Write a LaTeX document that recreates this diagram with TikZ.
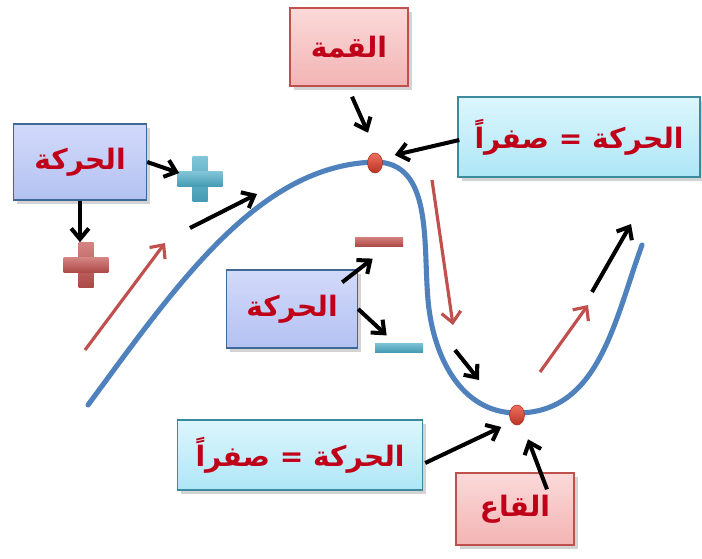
\documentclass[tikz,border=0pt]{standalone}
\usepackage{fontspec}
\newfontfamily\arabicfont[Script=Arabic]{DejaVu Sans}
\TeXXeTstate=1
\usetikzlibrary{arrows.meta,calc,shadows,shapes.geometric}
\definecolor{CurveBlue}{HTML}{4F81BD}
\definecolor{Salmon}{HTML}{C0504D}
\definecolor{PlusCyan}{HTML}{4BACC6}
\definecolor{TxtRed}{HTML}{C00018}
\definecolor{KnobRed}{HTML}{E8402C}
\definecolor{BoxBlueTop}{HTML}{D2DAFA}
\definecolor{BoxBlueBot}{HTML}{B4C2F2}
\definecolor{BoxCyanTop}{HTML}{DDF6FD}
\definecolor{BoxCyanBot}{HTML}{AEE6F6}
\definecolor{BoxPinkTop}{HTML}{FBD9D9}
\definecolor{BoxPinkBot}{HTML}{F3B4B4}
\newcommand{\artxt}[1]{{\arabicfont\bfseries\beginR #1\endR}}

\begin{document}
\begin{tikzpicture}[x=0.02cm, y=-0.02cm,
  markbox/.style={draw, line width=0.8pt, font=\fontsize{16}{20}\selectfont,
                  text=TxtRed, align=center, inner sep=2pt,
                  drop shadow={shadow xshift=2pt, shadow yshift=-2pt, opacity=0.35}},
  bluebox/.style={markbox, draw=CurveBlue!80!black, top color=BoxBlueTop, bottom color=BoxBlueBot},
  cyanbox/.style={markbox, draw=PlusCyan!80!black, top color=BoxCyanTop, bottom color=BoxCyanBot},
  pinkbox/.style={markbox, draw=Salmon, top color=BoxPinkTop, bottom color=BoxPinkBot},
  plussign/.style={minimum size=0.9cm, inner sep=0pt, path picture={
      \shade[top color=#1!70, bottom color=#1!90!black]
        ([xshift=-0.15cm]path picture bounding box.south) rectangle
        ([xshift=0.15cm]path picture bounding box.north);
      \shade[top color=#1!70, bottom color=#1!90!black]
        ([yshift=-0.15cm]path picture bounding box.west) rectangle
        ([yshift=0.15cm]path picture bounding box.east);}},
  minussign/.style={minimum width=0.96cm, minimum height=0.17cm, inner sep=0pt,
                    top color=#1!75, bottom color=#1!90!black},
  knob/.style={ellipse, minimum width=0.3cm, minimum height=0.4cm, inner sep=0pt,
              top color=KnobRed!75!white, bottom color=KnobRed!80!black,
              draw=KnobRed!70!black, line width=0.3pt},
  blk/.style={-{Straight Barb[length=6pt, width=10pt]}, line width=2.3pt, black},
  salm/.style={-{Straight Barb[length=6pt, width=11pt]}, line width=1.8pt, Salmon}
]
\useasboundingbox (0,0) rectangle (702,558);

% the curve
\draw[CurveBlue, line width=2.9pt, line cap=round]
  (88,405) .. controls (180,280) and (260,165) .. (375,162)
  to[out=0, in=95] (428,300)
  to[out=-85, in=180] (517,413)
  to[out=0, in=-110] (642,245);

\node[knob] (peak) at (375,163) {};
\node[knob] (trough) at (517,415) {};

% boxes
\node[bluebox, minimum width=2.66cm, minimum height=1.52cm] (motionA) at (80,162) {\artxt{الحركة}};
\node[pinkbox, minimum width=2.36cm, minimum height=1.56cm] (peakbox) at (349,47) {\artxt{القمة}};
\node[cyanbox, minimum width=4.84cm, minimum height=1.6cm] (zeroA) at (579,137) {\artxt{الحركة = صفراً}};
\node[bluebox, minimum width=2.62cm, minimum height=1.56cm] (motionB) at (292,309) {\artxt{الحركة}};
\node[cyanbox, minimum width=4.9cm, minimum height=1.4cm] (zeroB) at (300,455) {\artxt{الحركة = صفراً}};
\node[pinkbox, minimum width=2.36cm, minimum height=1.44cm] (troughbox) at (515,509) {\artxt{القاع}};

% signs
\node[plussign=PlusCyan] (plusC) at (200,179) {};
\node[plussign=Salmon] (plusR) at (86,265) {};
\node[minussign=Salmon] (minusR) at (379,242) {};
\node[minussign=PlusCyan] (minusC) at (399,348) {};

% pointers
\draw[blk] (motionA.east) -- ($(plusC.west)+(2,-6)$);
\draw[blk] (motionA.south) -- (motionA.south |- plusR.north);
\draw[blk] ($(peakbox.south)+(3,10)$) -- ($(peak.north)+(-7,-20)$);
\draw[blk] ($(zeroA.west)+(2,3)$) -- ($(peak.east)+(12,-8)$);
\draw[blk] ($(motionB.north east)+(-16,13)$) -- ($(minusR.south west)+(18,12)$);
\draw[blk] (motionB.east) -- ($(minusC.north west)+(12,-8)$);
\draw[blk] ($(zeroB.east)+(2,8)$) -- ($(trough.west)+(-8,12)$);
\draw[blk] ($(troughbox.north)+(32,17)$) -- ($(trough.south)+(11,14)$);

% motion along the curve
\coordinate (sa0) at (85,350);  \coordinate (sa1) at (165,243);
\coordinate (ba0) at (190,228); \coordinate (ba1) at (257,194);
\coordinate (sb0) at (432,180); \coordinate (sb1) at (453,325);
\coordinate (bb0) at (455,350); \coordinate (bb1) at (479,380);
\coordinate (sc0) at (540,372); \coordinate (sc1) at (588,305);
\coordinate (bc0) at (592,292); \coordinate (bc1) at (631,224);
\draw[salm] (sa0) -- (sa1);
\draw[blk] (ba0) -- (ba1);
\draw[salm] (sb0) -- (sb1);
\draw[blk] (bb0) -- (bb1);
\draw[salm] (sc0) -- (sc1);
\draw[blk] (bc0) -- (bc1);

\end{tikzpicture}
\end{document}
